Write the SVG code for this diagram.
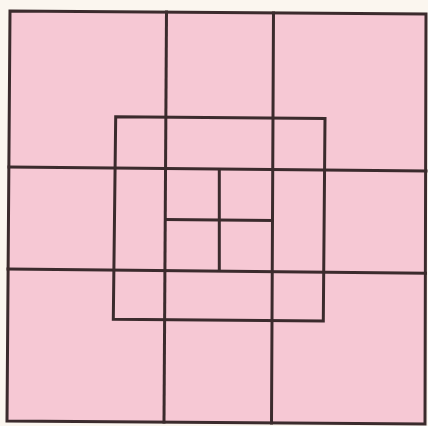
<svg xmlns="http://www.w3.org/2000/svg" width="428" height="426" viewBox="0 0 428 426">
<style>
.ln{stroke:#3b2b2d;stroke-width:3;fill:none;stroke-linecap:square;stroke-linejoin:miter}
</style>
<rect width="428" height="426" fill="#fbf6ef"/>
<polygon points="10,11 426,14 425,424 7,421" fill="#f6c8d4"/>
<g id="grid" class="ln">
<polygon points="10,11 426,14 425,424 7,421"/>
<line x1="166.5" y1="12" x2="164" y2="422"/>
<line x1="273.5" y1="13" x2="271.5" y2="423"/>
<line x1="9" y1="167" x2="426" y2="171"/>
<line x1="8" y1="269" x2="425.5" y2="273.3"/>
<polygon points="115.7,116.7 325,118.5 323.3,321 113.3,319.3"/>
<line x1="219.3" y1="170" x2="219.3" y2="270.5"/>
<line x1="165.5" y1="219.5" x2="272" y2="220.5"/>
</g>
</svg>
